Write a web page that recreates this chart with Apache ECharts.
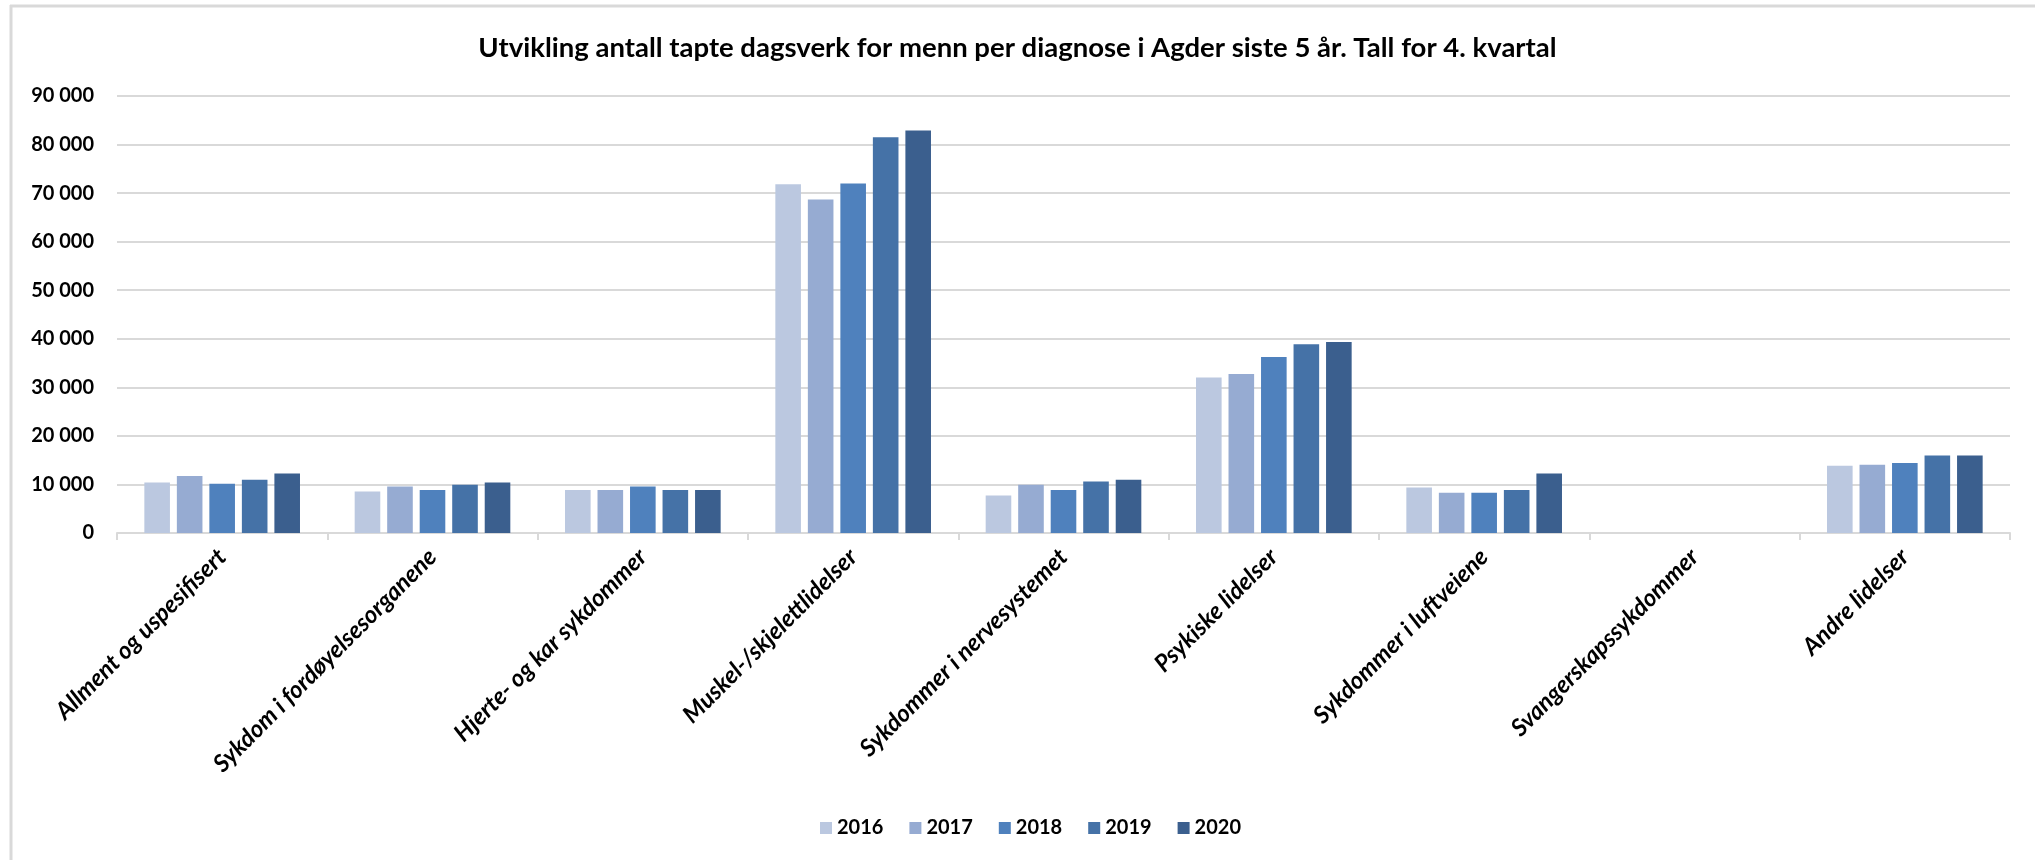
<!DOCTYPE html>
<html>
<head>
<meta charset="utf-8">
<script src="https://cdn.jsdelivr.net/npm/echarts@6/dist/echarts.min.js"></script>
<style>
html,body{margin:0;padding:0;background:#fff;}
#chart{width:2035px;height:860px;}
</style>
</head>
<body>
<div id="chart"></div>
<script>
const categories = ["Allment og uspesifisert","Sykdom i fordøyelsesorganene","Hjerte- og kar sykdommer","Muskel-/skjelettlidelser","Sykdommer i nervesystemet","Psykiske lidelser","Sykdommer i luftveiene","Svangerskapssykdommer","Andre lidelser"];
const years = ["2016","2017","2018","2019","2020"];
const v2016 = [10400, 8560, 8840, 71800, 7740, 32000, 9380, 0, 13840];
const v2017 = [11720, 9590, 8840, 68700, 9930, 32760, 8290, 0, 14050];
const v2018 = [10140, 8840, 9590, 72000, 8840, 36260, 8290, 0, 14400];
const v2019 = [10960, 9930, 8840, 81500, 10610, 38870, 8840, 0, 15960];
const v2020 = [12260, 10400, 8840, 82900, 10960, 39350, 12260, 0, 15960];
const yTicks = [0, 10000, 20000, 30000, 40000, 50000, 60000, 70000, 80000, 90000];
const colors = ["#BBC8E0", "#96ABD2", "#4F81BD", "#4572A7", "#3B5F8E"];

const seriesValues = [v2016, v2017, v2018, v2019, v2020];
const FONT = "Lato";
const chart = echarts.init(document.getElementById('chart'));
chart.setOption({
  animation: false,
  backgroundColor: '#fff',
  textStyle: { fontFamily: FONT },
  title: {
    text: "Utvikling antall tapte dagsverk for menn per diagnose i Agder siste 5 år. Tall for 4. kvartal",
    left: 'center',
    top: 29,
    textStyle: { fontFamily: FONT, fontWeight: 'bold', fontSize: 27.5, color: '#000' }
  },
  graphic: [
    { type: 'line', shape: { x1: 10, y1: 6, x2: 2035, y2: 6 }, style: { stroke: '#d9d9d9', lineWidth: 3 } },
    { type: 'line', shape: { x1: 11, y1: 5, x2: 11, y2: 860 }, style: { stroke: '#d9d9d9', lineWidth: 3 } }
  ],
  legend: {
    data: years,
    bottom: 17,
    left: 815,
    itemWidth: 12,
    itemHeight: 12,
    itemGap: 26,
    icon: 'rect',
    textStyle: { fontFamily: FONT, fontWeight: 'bold', fontSize: 20, color: '#000' }
  },
  grid: { left: 117, right: 25, top: 96, bottom: 327, containLabel: false },
  xAxis: {
    type: 'category',
    data: categories,
    axisLine: { lineStyle: { color: '#d9d9d9', width: 2 } },
    axisTick: { show: true, length: 7, lineStyle: { color: '#d9d9d9', width: 2 } },
    axisLabel: {
      rotate: 45,
      margin: 20,
      interval: 0,
      fontFamily: FONT,
      fontWeight: 'bold',
      fontStyle: 'italic',
      fontSize: 24,
      color: '#000'
    }
  },
  yAxis: {
    type: 'value',
    min: yTicks[0],
    max: yTicks[yTicks.length - 1],
    interval: yTicks[1] - yTicks[0],
    axisLine: { show: false },
    axisTick: { show: false },
    splitLine: { lineStyle: { color: '#d9d9d9', width: 2 } },
    axisLabel: {
      margin: 23,
      fontFamily: FONT,
      fontWeight: 'bold',
      fontSize: 20,
      color: '#000',
      formatter: function (v) { return String(v).replace(/\B(?=(\d{3})+(?!\d))/g, ' '); }
    }
  },
  series: years.map(function (y, i) {
    return {
      name: y,
      type: 'bar',
      data: seriesValues[i],
      barCategoryGap: '26%',
      barGap: '27%',
      itemStyle: { color: colors[i] }
    };
  })
});
</script>
</body>
</html>
